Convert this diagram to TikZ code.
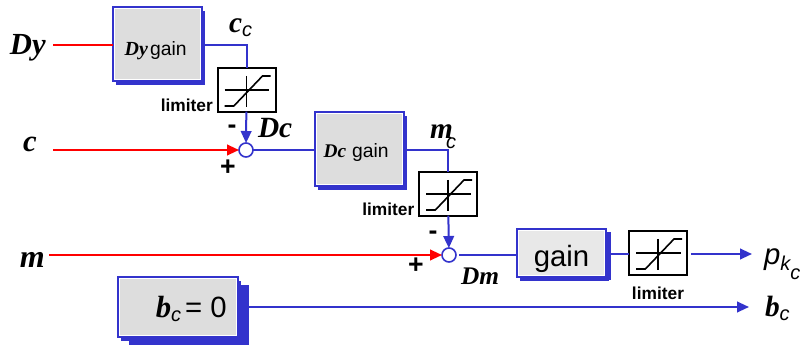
\documentclass[tikz,border=0pt]{standalone}
\usepackage{fontspec}
\setmainfont{Liberation Sans}
\newfontfamily\gkfont[ItalicFont=*,BoldFont=*]{Liberation Serif Bold Italic}
\usepackage{xcolor}
\usetikzlibrary{arrows.meta, positioning, shadows}
\definecolor{cblue}{HTML}{3333CC}
\definecolor{cred}{HTML}{FF0000}
\definecolor{cbox}{HTML}{DDDDDD}
\definecolor{cboxl}{HTML}{E8E8E8}
\newcommand{\gk}[2][21]{{\fontsize{#1}{#1}\gkfont #2}}
\newcommand{\sbc}[2][15]{\raisebox{-.3em}{\fontsize{#1}{#1}\selectfont\itshape #2}}

\begin{document}
\begin{tikzpicture}[
  x=0.75pt, y=-0.75pt,
  >={Triangle[length=9pt, width=8pt]},
  box/.style={draw=cblue, line width=1.5pt, fill=cbox, align=center, inner sep=0pt, outer sep=0pt,
              minimum width=66.75pt, minimum height=55.5pt,
              drop shadow={shadow xshift=2.25pt, shadow yshift=-3pt, fill=cblue, opacity=1},
              path picture={\draw[white, line width=3pt] (path picture bounding box.south west)
                rectangle (path picture bounding box.north east);}},
  lim/.style={draw=black, line width=1.5pt, fill=white, inner sep=0pt, outer sep=0pt,
              minimum width=43.5pt, minimum height=32.5pt},
  sum/.style={circle, draw=cblue, line width=1.2pt, fill=white, inner sep=0pt, outer sep=0pt,
              minimum size=10.5pt},
  txt/.style={inner sep=0pt, outer sep=0pt},
  limtxt/.style={txt, font=\fontsize{13}{13}\selectfont\bfseries},
  sgn/.style={txt, font=\fontsize{20}{20}\selectfont\bfseries},
  sig/.style={->, line width=1.5pt, draw=cblue},
  lin/.style={line width=1.5pt, draw=cblue},
  inp/.style={->, line width=1.5pt, draw=cred},
  ]
\useasboundingbox (0,0) rectangle (801,345);

\node[box] (dygain) at (157,44.5) {\raisebox{-7.9pt}[0pt][0pt]{\hspace*{-2pt}\gk[15]{Dy}\,{\fontsize{14.5}{14.5}\selectfont gain}}};
\node[box] (dcgain) at (359.5,149) {\raisebox{-6.75pt}[0pt][0pt]{\hspace*{-5pt}\gk[14.5]{Dc}\hspace{4.5pt}{\fontsize{14.5}{14.5}\selectfont gain}}};
\node[box, fill=cboxl, minimum height=36pt, drop shadow={shadow xshift=3.5pt, shadow yshift=-2.5pt, fill=cblue, opacity=1}] (gain) at (561.5,253) {\raisebox{-10.5pt}[0pt][0pt]{\fontsize{22}{22}\selectfont gain}};
\node[box, minimum width=90pt, minimum height=45pt, drop shadow={shadow xshift=8.25pt, shadow yshift=-6pt, fill=cblue, opacity=1}] (bzero) at (178,307)
  {\raisebox{-8.25pt}[0pt][0pt]{\hspace*{20pt}\gk[23]{b}\sbc{c}\hspace{3pt}{\fontsize{22}{22}\selectfont = 0}}};

\node[lim] (limA) at (246.5,90) {};
\node[lim] (limB) at (448,194) {};
\node[lim] (limC) at (658,253) {};
\foreach \n in {limA,limB,limC} {
  \draw[line width=1.2pt] ([yshift=10.5pt]\n.center) -- ([yshift=-12.75pt]\n.center);
  \draw[line width=1.2pt] ([xshift=-16.5pt]\n.center) -- ([xshift=17pt]\n.center);
  \draw[line width=1.2pt] ([xshift=-16.5pt,yshift=-12pt]\n.center) -- ([xshift=-9.5pt,yshift=-12pt]\n.center)
    -- ([xshift=12pt,yshift=10.5pt]\n.center) -- ([xshift=18pt,yshift=10.5pt]\n.center);
}

\node[sum] (sumA) at (246,150) {};
\node[sum] (sumB) at (449,255) {};

\coordinate (dyin) at (53,45);
\coordinate (cin) at (53,150);
\coordinate (min) at (49,255);
\coordinate (pout) at (752,254);
\coordinate (bout) at (749,307);
\coordinate (sumBout) at (459,255);
\coordinate (limCout) at (691,254);

\draw[line width=1.5pt, draw=cred] (dyin) -- (dyin -| dygain.west);
\draw[inp] (cin) -- (sumA);
\draw[inp] (min) -- (sumB);
\draw[lin] (dyin -| dygain.east) -| (limA);
\draw[sig] (limA) -- (sumA);
\draw[lin] (sumA) -- (sumA -| dcgain.west);
\draw[lin] (sumA -| dcgain.east) -| (limB);
\draw[sig] (limB) -- (sumB);
\draw[lin] (sumBout) -- (sumBout -| gain.west);
\draw[lin] (limCout -| gain.east) -- (limCout -| limC.west);
\draw[sig] (limCout) -- (pout);
\draw[sig] (bzero) -- (bout);

\node[txt, anchor=base west] (dylab) at (10,55) {\gk[23]{Dy}};
\node[txt, anchor=base west] (clab) at (23,152) {\gk[23]{c}};
\node[txt, anchor=base west] (mlab) at (20,268) {\gk[24]{m}};
\node[txt, anchor=base west] (cclab) at (229,33) {\gk[22]{c}\sbc{c}};
\node[txt, anchor=base west] (dclab) at (258,138) {\gk[22]{Dc}};
\node[txt, anchor=base west] (mclab) at (430,139) {\gk[22]{m}\hspace{-5pt}\raisebox{-7pt}{\fontsize{15}{15}\selectfont\itshape c}};
\node[txt, anchor=base west] (dmlab) at (461,285) {\gk[19]{Dm}};
\node[txt, anchor=base west] (pklab) at (764,265) {\fontsize{22}{22}\selectfont\itshape p\raisebox{-4pt}{\fontsize{15}{15}\selectfont k\raisebox{-7pt}{c}}};
\node[txt, anchor=base west] (bclab) at (765,317) {\gk[22]{b}\sbc{c}};

\node[limtxt, left=3.5pt of limA.south west, anchor=south east] (limAlab) {limiter};
\node[limtxt, left=3.5pt of limB.south west, anchor=south east] (limBlab) {limiter};
\node[limtxt, below=9pt of limC] (limClab) {limiter};

\node[sgn] (minA) at (232,129) {-};
\node[sgn] (plusA) at (228,168) {+};
\node[sgn] (minB) at (433,235) {-};
\node[sgn] (plusB) at (416,266) {+};
\end{tikzpicture}
\end{document}
